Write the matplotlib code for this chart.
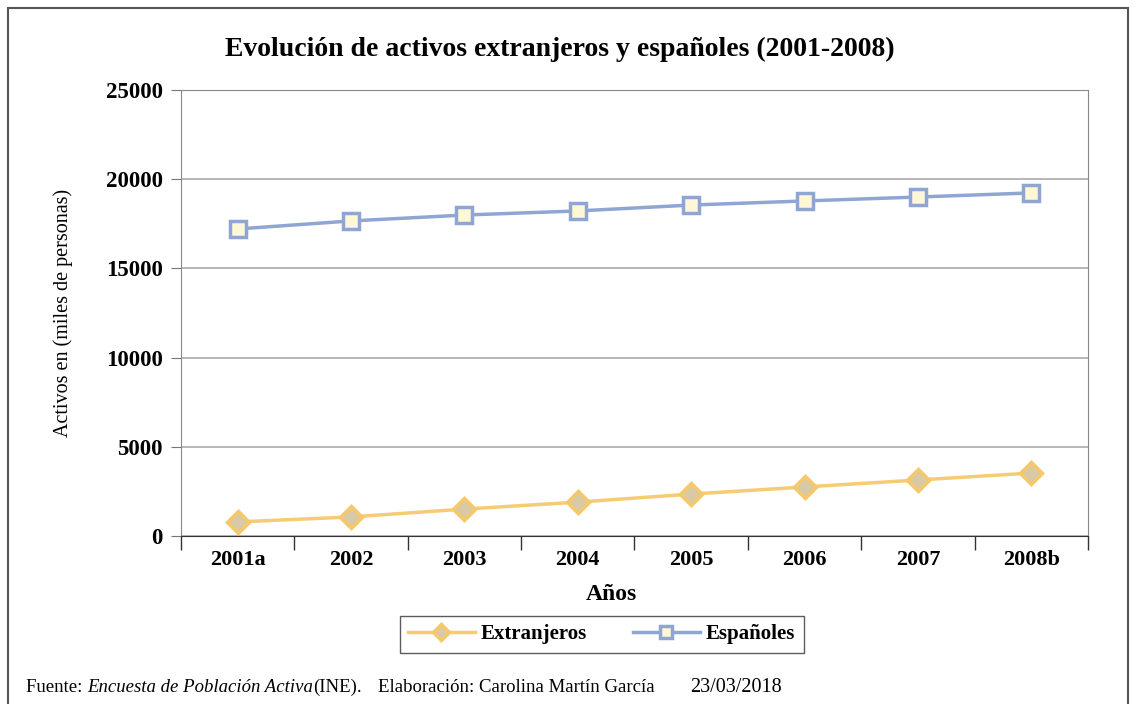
import numpy as np
import matplotlib.pyplot as plt
from matplotlib.patches import Rectangle

years = ['2001a', '2002', '2003', '2004', '2005', '2006', '2007', '2008b']
extranjeros = [790, 1070, 1510, 1900, 2350, 2750, 3140, 3530]
espanoles = [17210, 17660, 17990, 18220, 18550, 18780, 19000, 19230]
yticks = [0, 5000, 10000, 15000, 20000, 25000]

plt.rcParams['font.family'] = ['Liberation Serif', 'DejaVu Serif']

fig = plt.figure(figsize=(11.34, 7.04), dpi=100)
ax = fig.add_axes([0.1596, 0.2386, 0.7998, 0.6336])

# outer frame of the figure
fig.patches.append(Rectangle((0.007, -0.05), 0.9877, 1.0386, transform=fig.transFigure,
                             fill=False, edgecolor='#555555', linewidth=1.5))

x = np.arange(len(years))
ax.plot(x, extranjeros, color='#F5CB74', linewidth=2.5, marker='D', markersize=11,
        markerfacecolor='#D9C9A6', markeredgecolor='#F5C96A', markeredgewidth=2.5,
        label='Extranjeros', zorder=3)
ax.plot(x, espanoles, color='#8FA6D2', linewidth=2.5, marker='s', markersize=11,
        markerfacecolor='#FFF7D6', markeredgecolor='#8FA6D2', markeredgewidth=2.5,
        label='Españoles', zorder=3)

ax.set_xlim(-0.5, len(years) - 0.5)
ax.set_ylim(0, 25000)
ax.set_yticks(yticks)
ax.set_yticklabels([str(v) for v in yticks], fontsize=16.5, fontweight='bold')
ax.set_xticks(x)
ax.set_xticklabels(years, fontsize=16, fontweight='bold')
ax.tick_params(axis='x', length=0, pad=10)
ax.set_xticks(np.arange(-0.5, len(years)), minor=True)
ax.tick_params(axis='x', which='minor', length=10, color='#333333', width=1)
ax.tick_params(axis='y', length=7, color='#777777', pad=6)
ax.yaxis.grid(True, color='#AAAAAA', linewidth=1.2)
ax.set_axisbelow(True)
for side in ['top', 'right', 'left']:
    ax.spines[side].set_color('#888888')
ax.spines['bottom'].set_color('#333333')

fig.text(560 / 1134, 1 - 49 / 704, 'Evolución de activos extranjeros y españoles (2001-2008)',
         fontsize=20, fontweight='bold', ha='center', va='center')
ax.set_xlabel('Años', fontsize=17, fontweight='bold', labelpad=10)
ax.xaxis.label.set_x(0.474)
ax.set_ylabel('Activos en (miles de personas)', fontsize=14.5, labelpad=24)

leg = fig.legend(handles=ax.get_lines(), loc='center', bbox_to_anchor=(0.5305, 0.099),
                 ncol=2, frameon=True, fancybox=False, edgecolor='#333333',
                 prop={'size': 15, 'weight': 'bold'}, handlelength=3.2, markerscale=0.75,
                 columnspacing=2.2, handletextpad=0.3)

fy = 1 - 692 / 704
t1 = fig.text(26 / 1134, fy, 'Fuente: ', fontsize=13.5, va='baseline')
t2 = fig.text(0, fy, 'Encuesta de Población Activa', fontsize=13.5, style='italic', va='baseline')
t3 = fig.text(0, fy, '(INE).', fontsize=13.5, va='baseline')
fig.text(378 / 1134, fy, 'Elaboración: Carolina Martín García', fontsize=13.5, va='baseline')
fig.text(690 / 1134, fy, '23/03/2018', fontsize=14.5, va='baseline')
fig.canvas.draw()
r = fig.canvas.get_renderer()
b1 = t1.get_window_extent(r)
t2.set_x(b1.x1 / fig.bbox.width)
b2 = t2.get_window_extent(r)
t3.set_x(b2.x1 / fig.bbox.width)

fig.savefig('out.png', dpi=100)
